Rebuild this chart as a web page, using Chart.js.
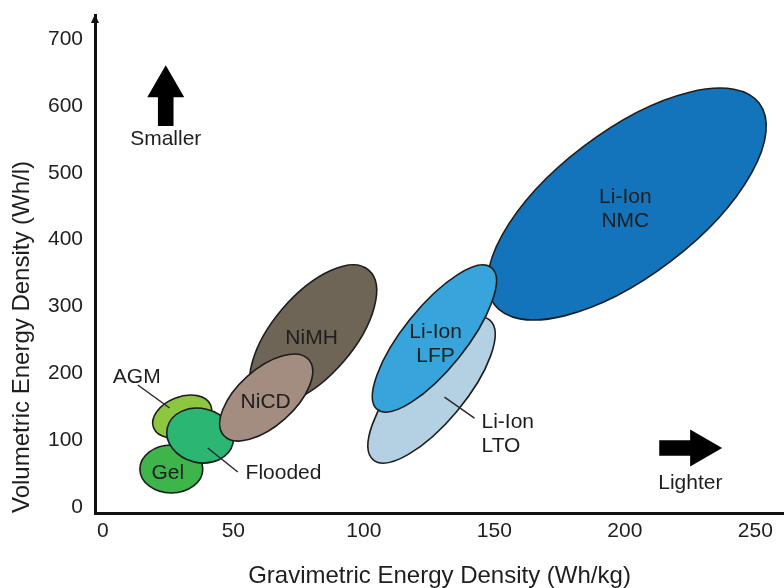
<!DOCTYPE html>
<html>
<head>
<meta charset="utf-8">
<script src="https://cdn.jsdelivr.net/npm/chart.js@4.4.1/dist/chart.umd.min.js"></script>
<style>
  html, body { margin: 0; padding: 0; background: #ffffff; }
  #wrap { width: 784px; height: 588px; }
</style>
</head>
<body>
<div id="wrap"><canvas id="chart" width="784" height="588"></canvas></div>
<script>
// ---------------- DATA ----------------
// Chemistries, listed in drawing order (back to front)
const categories = ['AGM', 'Gel', 'Flooded', 'NiMH', 'NiCD', 'Li-Ion LTO', 'Li-Ion NMC', 'Li-Ion LFP'];
// Gravimetric energy density range (Wh/kg)
const gravMin = [19.1, 14.2, 24.5, 56.3, 44.8, 101.6, 147.4, 103.3];
const gravMax = [41.7, 38.3, 50.1, 104.9, 80.4, 150.3, 254.2, 150.8];
// Volumetric energy density range (Wh/l)
const volMin = [103.2, 20.9, 65.8, 152.6, 98.7, 65.8, 279.7, 142.0];
const volMax = [167.5, 92.7, 148.0, 362.0, 228.8, 284.2, 626.7, 362.0];
// Correlation between the two ranges (tilt of each region)
const tilt = [0.30, 0.00, -0.10, 0.63, 0.60, 0.76, 0.67, 0.785];

// Region labels (data coordinates)
const labelLines = [['AGM'], ['Gel'], ['Flooded'], ['NiMH'], ['NiCD'], ['Li-Ion', 'LTO'], ['Li-Ion', 'NMC'], ['Li-Ion', 'LFP']];
const labelX = [13.0, 24.9, 54.7, 80.0, 62.4, 145.1, 200.2, 127.5];
const labelY = [194.4, 50.9, 50.9, 252.8, 157.0, 109.2, 446.0, 243.8];
const labelAlign = ['center', 'center', 'left', 'center', 'center', 'left', 'center', 'center'];

// Leader lines [fromX, fromY, toX, toY]
const leaderLines = [
  [13.4, 182.5, 25.6, 148.1],   // AGM
  [40.2, 88.2, 51.7, 52.3],     // Flooded
  [130.9, 164.5, 142.4, 133.1]  // Li-Ion LTO
];

// Direction arrows [tailX, tailY, tipX, tipY] and their captions
const arrowLines = [
  [24.1, 570, 24.1, 661],
  [213.2, 88.2, 237.3, 88.2]
];
const arrowText = ['Smaller', 'Lighter'];
const arrowTextX = [24.1, 225.1];
const arrowTextY = [550.4, 35.9];

// Axes
const xTicks = [0, 50, 100, 150, 200, 250];
const yTicks = [0, 100, 200, 300, 400, 500, 600, 700];
const xRange = [-3, 261];
const yRange = [-9, 736];
const xTitle = 'Gravimetric Energy Density (Wh/kg)';
const yTitle = 'Volumetric Energy Density (Wh/l)';

// ---------------- STYLE ----------------
const fillColors = ['#8DC63F', '#3DB54A', '#2BB673', '#6F6557', '#A38D81', '#B3D1E3', '#1374BB', '#37A4DC'];
const FONT = '"Liberation Sans", Arial, Helvetica, sans-serif';
const TEXT = '#1e1e1e';

Chart.defaults.font.family = FONT;
Chart.defaults.color = TEXT;

const regionPlugin = {
  id: 'regions',
  afterDatasetsDraw(chart) {
    const ctx = chart.ctx;
    const xs = chart.scales.x, ys = chart.scales.y;
    const X = v => xs.getPixelForValue(v);
    const Y = v => ys.getPixelForValue(v);

    // ellipses
    categories.forEach((name, i) => {
      const px1 = X(gravMin[i]), px2 = X(gravMax[i]);
      const py1 = Y(volMin[i]), py2 = Y(volMax[i]);
      const cx = (px1 + px2) / 2, cy = (py1 + py2) / 2;
      const hx = Math.abs(px2 - px1) / 2, hy = Math.abs(py2 - py1) / 2;
      const r = -tilt[i]; // pixel y axis points down
      const A = hx * hx, C = hy * hy, B = r * hx * hy;
      const m = (A + C) / 2, d = Math.sqrt(((A - C) / 2) ** 2 + B * B);
      const a = Math.sqrt(m + d), b = Math.sqrt(Math.max(m - d, 0.0001));
      const theta = 0.5 * Math.atan2(2 * B, A - C);
      ctx.save();
      ctx.beginPath();
      ctx.ellipse(cx, cy, a, b, theta, 0, Math.PI * 2);
      ctx.fillStyle = fillColors[i];
      ctx.fill();
      ctx.lineWidth = 1.6;
      ctx.strokeStyle = '#1d1d1d';
      ctx.stroke();
      ctx.restore();
    });

    // leader lines
    ctx.save();
    ctx.strokeStyle = '#2a2a2a';
    ctx.lineWidth = 1.5;
    leaderLines.forEach(l => {
      ctx.beginPath();
      ctx.moveTo(X(l[0]), Y(l[1]));
      ctx.lineTo(X(l[2]), Y(l[3]));
      ctx.stroke();
    });
    ctx.restore();

    // labels
    ctx.save();
    ctx.fillStyle = TEXT;
    ctx.font = '21px ' + FONT;
    ctx.textBaseline = 'middle';
    const lh = 24;
    labelLines.forEach((lines, i) => {
      ctx.textAlign = labelAlign[i];
      const x = X(labelX[i]), y = Y(labelY[i]);
      const y0 = y - (lines.length - 1) * lh / 2;
      lines.forEach((t, k) => ctx.fillText(t, x, y0 + k * lh));
    });
    ctx.restore();

    // arrows
    ctx.save();
    ctx.fillStyle = '#000';
    arrowLines.forEach(al => {
      const x1 = X(al[0]), y1 = Y(al[1]), x2 = X(al[2]), y2 = Y(al[3]);
      const len = Math.hypot(x2 - x1, y2 - y1);
      const ang = Math.atan2(y2 - y1, x2 - x1);
      const headLen = 32, headHalf = 18.5, shaftHalf = 7.8;
      ctx.save();
      ctx.translate(x1, y1);
      ctx.rotate(ang);
      ctx.beginPath();
      ctx.moveTo(0, -shaftHalf);
      ctx.lineTo(len - headLen, -shaftHalf);
      ctx.lineTo(len - headLen, -headHalf);
      ctx.lineTo(len, 0);
      ctx.lineTo(len - headLen, headHalf);
      ctx.lineTo(len - headLen, shaftHalf);
      ctx.lineTo(0, shaftHalf);
      ctx.closePath();
      ctx.fill();
      ctx.restore();
    });
    ctx.fillStyle = TEXT;
    ctx.font = '21px ' + FONT;
    ctx.textAlign = 'center';
    ctx.textBaseline = 'middle';
    arrowText.forEach((t, i) => ctx.fillText(t, X(arrowTextX[i]), Y(arrowTextY[i])));
    ctx.restore();

    // arrow head at top of the y axis
    const ax = xs.left, ay = chart.chartArea.top;
    ctx.save();
    ctx.fillStyle = '#111';
    ctx.beginPath();
    ctx.moveTo(ax, ay - 1);
    ctx.lineTo(ax - 4, ay + 8);
    ctx.lineTo(ax + 4, ay + 8);
    ctx.closePath();
    ctx.fill();
    ctx.restore();
  }
};

new Chart(document.getElementById('chart').getContext('2d'), {
  type: 'scatter',
  data: {
    datasets: categories.map((c, i) => ({
      label: c,
      data: [{ x: (gravMin[i] + gravMax[i]) / 2, y: (volMin[i] + volMax[i]) / 2 }],
      pointRadius: 0,
      pointHoverRadius: 0,
      backgroundColor: fillColors[i]
    }))
  },
  options: {
    responsive: false,
    animation: false,
    devicePixelRatio: 1,
    layout: { autoPadding: false, padding: { top: 15, left: 0, right: 0, bottom: 0 } },
    plugins: { legend: { display: false }, tooltip: { enabled: false } },
    scales: {
      x: {
        type: 'linear',
        position: 'bottom',
        min: xRange[0],
        max: xRange[1],
        afterBuildTicks: s => { s.ticks = xTicks.map(v => ({ value: v })); },
        afterFit: s => { s.height = 75; s.paddingLeft = 0; s.paddingRight = 0; s.paddingTop = 0; s.paddingBottom = 0; },
        grid: { display: false, drawTicks: false },
        border: { display: true, color: '#111', width: 3 },
        ticks: { autoSkip: false, maxRotation: 0, padding: 6, color: TEXT, font: { size: 21 } },
        title: { display: true, text: xTitle, color: TEXT, font: { size: 24, lineHeight: 1 }, padding: { top: 0, bottom: 0 } }
      },
      y: {
        type: 'linear',
        position: 'left',
        min: yRange[0],
        max: yRange[1],
        afterBuildTicks: s => { s.ticks = yTicks.map(v => ({ value: v })); },
        afterFit: s => { s.width = 95; s.paddingLeft = 0; s.paddingRight = 0; s.paddingTop = 0; s.paddingBottom = 0; },
        grid: { display: false, drawTicks: false },
        border: { display: true, color: '#111', width: 3 },
        ticks: { autoSkip: false, padding: 12, color: TEXT, font: { size: 21 } },
        title: { display: true, text: yTitle, align: 'start', color: TEXT, font: { size: 24, lineHeight: 1 }, padding: { top: 10, bottom: 0 } }
      }
    }
  },
  plugins: [regionPlugin]
});
</script>
</body>
</html>
